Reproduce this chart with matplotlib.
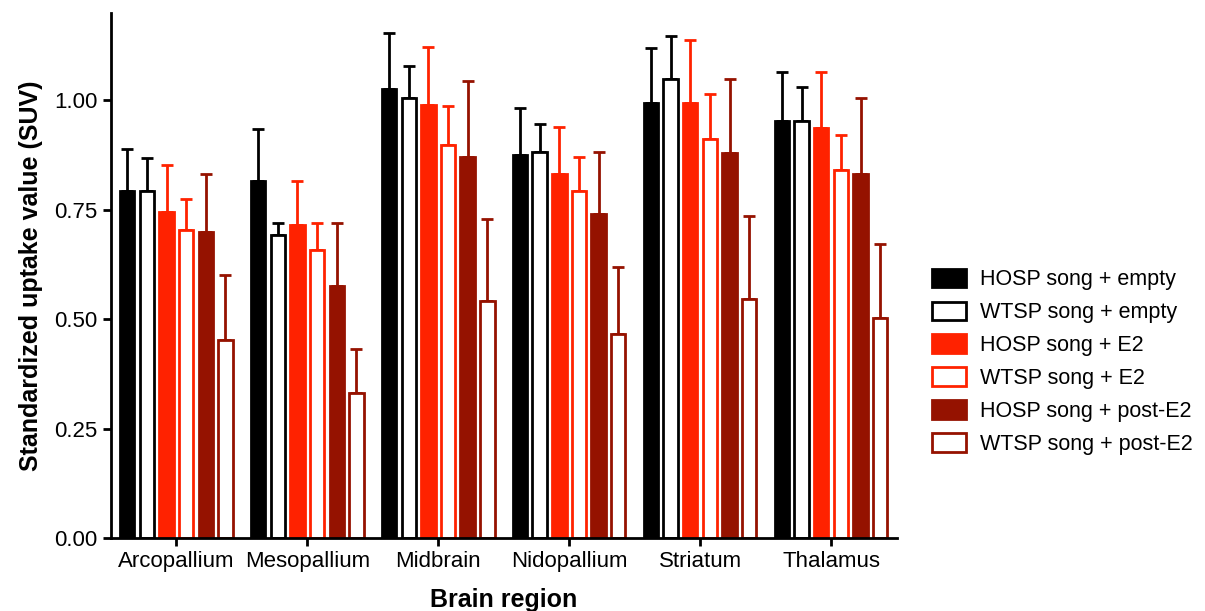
import numpy as np
import matplotlib
matplotlib.use("Agg")
import matplotlib.pyplot as plt

plt.rcParams['font.family'] = ['Liberation Sans', 'DejaVu Sans']

regions = ["Arcopallium", "Mesopallium", "Midbrain", "Nidopallium", "Striatum", "Thalamus"]
groups = ["HOSP song + empty", "WTSP song + empty", "HOSP song + E2",
          "WTSP song + E2", "HOSP song + post-E2", "WTSP song + post-E2"]

# mean SUV per group (rows) and region (columns)
means = [
    [0.793, 0.817, 1.025, 0.876, 0.995, 0.954],
    [0.793, 0.692, 1.006, 0.882, 1.048, 0.954],
    [0.746, 0.716, 0.989, 0.832, 0.993, 0.936],
    [0.704, 0.659, 0.899, 0.793, 0.912, 0.840],
    [0.700, 0.577, 0.870, 0.741, 0.880, 0.833],
    [0.453, 0.331, 0.541, 0.467, 0.546, 0.503],
]
# top of error bar (mean + SEM)
tops = [
    [0.890, 0.934, 1.153, 0.983, 1.120, 1.066],
    [0.869, 0.721, 1.079, 0.947, 1.147, 1.030],
    [0.853, 0.816, 1.123, 0.939, 1.138, 1.064],
    [0.774, 0.720, 0.987, 0.871, 1.014, 0.922],
    [0.833, 0.720, 1.044, 0.883, 1.050, 1.005],
    [0.602, 0.433, 0.730, 0.619, 0.737, 0.673],
]

red = "#ff2200"
dark = "#951200"
faces = ["black", "white", red, "white", dark, "white"]
edges = ["black", "black", red, red, dark, dark]

fig = plt.figure(figsize=(12.05, 6.11), dpi=100)
ax = fig.add_axes([0.092, 0.119, 0.652, 0.86])

x = np.arange(len(regions))
pitch = 0.15
width = 0.11
for i in range(len(groups)):
    xs = x + (i - 2.5) * pitch
    m = np.array(means[i])
    err = np.array(tops[i]) - m
    ax.errorbar(xs, m, yerr=[np.zeros_like(err), err], fmt="none",
                ecolor=edges[i], elinewidth=2, capsize=4, capthick=2, zorder=1)
    ax.bar(xs, m, width, color=faces[i], edgecolor=edges[i], linewidth=2,
           label=groups[i], zorder=2)

ax.set_xlim(-0.5, 5.5)
ax.set_ylim(0, 1.2)
ax.set_yticks([0, 0.25, 0.5, 0.75, 1.0])
ax.set_yticklabels(["%.2f" % v for v in [0, 0.25, 0.5, 0.75, 1.0]])
ax.set_xticks(x)
ax.set_xticklabels(regions)
ax.tick_params(labelsize=16, width=2, length=6, direction="out")
for s in ["top", "right"]:
    ax.spines[s].set_visible(False)
for s in ["left", "bottom"]:
    ax.spines[s].set_linewidth(2)

ax.set_ylabel("Standardized uptake value (SUV)", fontsize=18, fontweight="bold", labelpad=8)
ax.set_xlabel("Brain region", fontsize=18, fontweight="bold", labelpad=11)

ax.legend(loc="center left", bbox_to_anchor=(1.045, 0.336), frameon=False, fontsize=15.5,
          borderpad=0, borderaxespad=0, handlelength=1.6, handleheight=0.95,
          labelspacing=0.52, handletextpad=0.65)

fig.savefig("out.png", dpi=100)
